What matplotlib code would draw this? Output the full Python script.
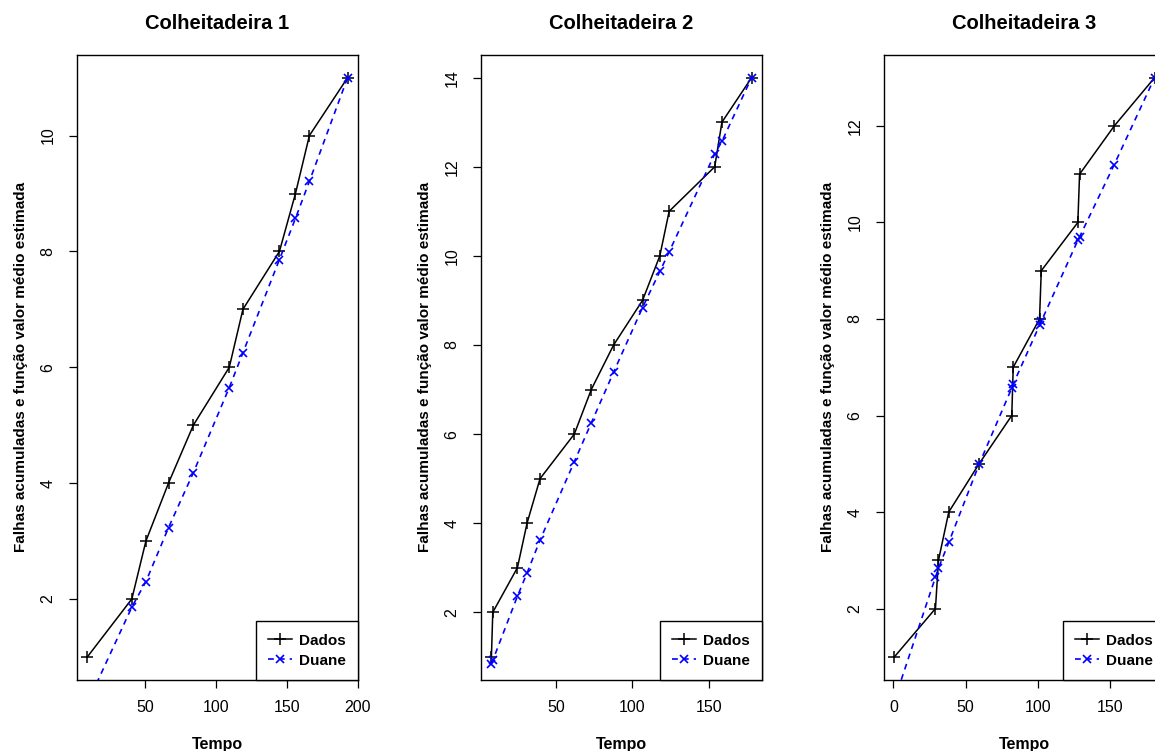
import numpy as np
import matplotlib
matplotlib.use("Agg")
import matplotlib.pyplot as plt

plt.rcParams['font.family'] = ['Liberation Sans', 'DejaVu Sans']

# Colheitadeira 1
tempo1 = [9.5, 40.8, 50.7, 66.6, 84.1, 109.4, 119.0, 144.7, 156.0, 165.8, 192.7]
falhas1 = [1, 2, 3, 4, 5, 6, 7, 8, 9, 10, 11]
duane1 = [0.2, 1.86, 2.30, 3.23, 4.18, 5.65, 6.25, 7.86, 8.57, 9.21, 11.0]

# Colheitadeira 2
tempo2 = [7.8, 8.7, 24.8, 31.1, 39.6, 62.0, 73.1, 87.7, 106.6, 117.9, 124.0, 153.8, 158.5, 177.9]
falhas2 = [1, 2, 3, 4, 5, 6, 7, 8, 9, 10, 11, 12, 13, 14]
duane2 = [0.84, 0.92, 2.36, 2.88, 3.62, 5.38, 6.25, 7.39, 8.84, 9.65, 10.09, 12.29, 12.57, 14.0]

# Colheitadeira 3
tempo3 = [0.7, 29.1, 31.2, 38.3, 59.3, 81.9, 82.9, 101.1, 102.3, 127.6, 128.8, 152.8, 180.7]
falhas3 = [1, 2, 3, 4, 5, 6, 7, 8, 9, 10, 11, 12, 13]
duane3 = [0.1, 2.65, 2.84, 3.37, 4.99, 6.57, 6.65, 7.87, 7.95, 9.63, 9.70, 11.2, 13.0]

titulos = ['Colheitadeira 1', 'Colheitadeira 2', 'Colheitadeira 3']
xticks = [[50, 100, 150, 200], [50, 100, 150], [0, 50, 100, 150]]
yticks = [[2, 4, 6, 8, 10], [2, 4, 6, 8, 10, 12, 14], [2, 4, 6, 8, 10, 12]]

dados = [(tempo1, falhas1, duane1), (tempo2, falhas2, duane2), (tempo3, falhas3, duane3)]

W, H = 1155, 751
fig = plt.figure(figsize=(W / 100, H / 100), dpi=100)

lefts = [77, 481, 884]
box_w = 281
top, bottom = 54.5, 680

def rlim(v):
    # mesma extensão de 4% usada pelo R
    lo, hi = min(v), max(v)
    r = hi - lo
    return lo - 0.04 * r, hi + 0.04 * r

for i, (t, n, d) in enumerate(dados):
    ax = fig.add_axes([lefts[i] / W, (H - bottom) / H, box_w / W, (bottom - top) / H])
    ax.plot(t, n, color='black', lw=1.1, marker='+', ms=9, mew=1.1, label='Dados')
    ax.plot(t, d, color='blue', lw=1.2, ls=(0, (3.5, 3)), marker='x', ms=6, mew=1.2,
            label='Duane')
    ax.set_xlim(*rlim(t))
    ax.set_ylim(*rlim(n))
    ax.set_xticks(xticks[i])
    ax.set_yticks(yticks[i])
    ax.tick_params(direction='out', length=5.5, width=0.9, labelsize=11.5, pad=9)
    ax.tick_params(axis='y', pad=10)
    for lab in ax.get_yticklabels():
        lab.set_rotation(90)
        lab.set_va('center')
    for s in ax.spines.values():
        s.set_linewidth(1.0)
    ax.set_title(titulos[i], fontsize=14.5, fontweight='bold', pad=18.5)
    ax.set_xlabel('Tempo', fontsize=11.5, fontweight='bold', labelpad=16)
    ax.set_ylabel('Falhas acumuladas e função valor médio estimada', fontsize=11,
                  fontweight='bold', labelpad=9)
    leg = ax.legend(loc='lower right', borderaxespad=0, fancybox=False,
                    edgecolor='black', framealpha=1, handlelength=1.55,
                    handletextpad=0.45, labelspacing=0.4, borderpad=0.8,
                    prop={'weight': 'bold', 'size': 11})
    leg.get_frame().set_linewidth(1.0)

fig.savefig('out.png', dpi=100)
